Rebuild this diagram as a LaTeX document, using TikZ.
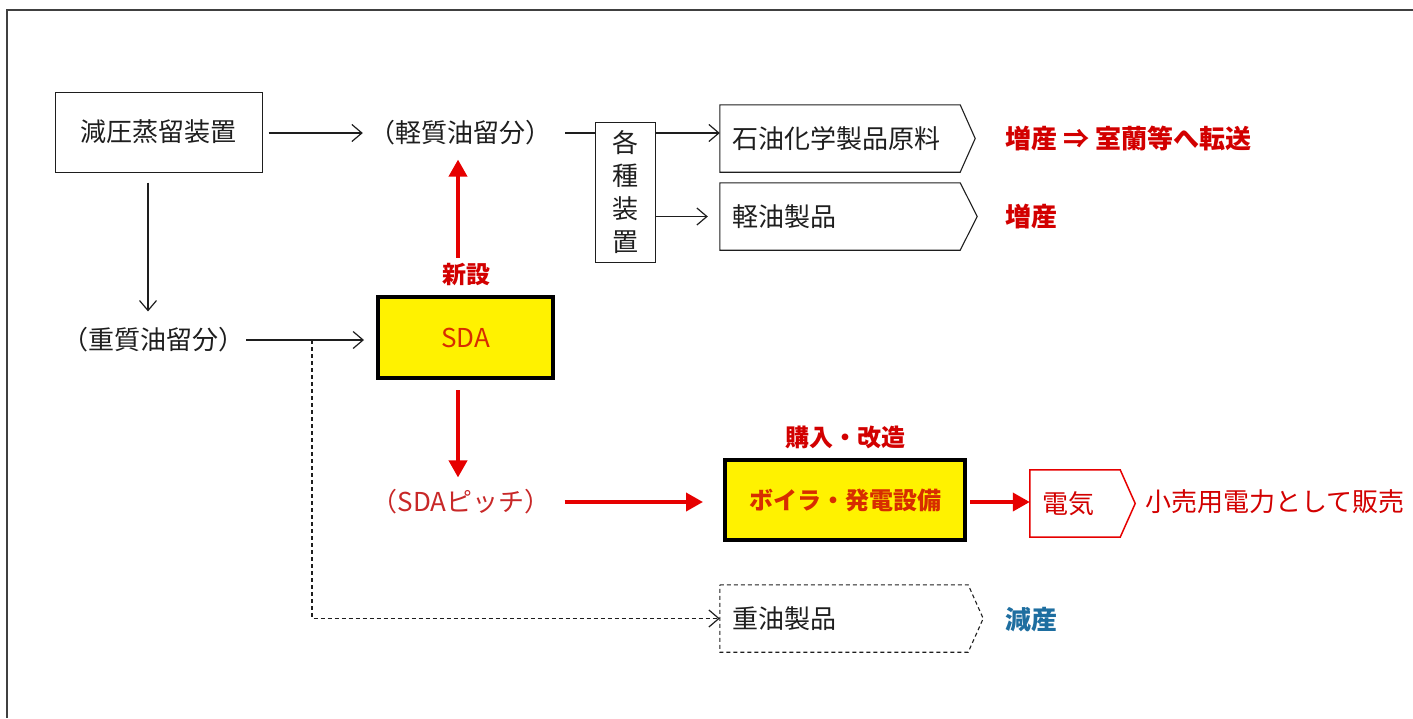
\documentclass[tikz,border=0pt]{standalone}
\usepackage{fontspec}
\setmainfont{Noto Sans CJK JP}
\usetikzlibrary{arrows.meta}
\definecolor{rarrow}{RGB}{230,0,0}
\definecolor{rlab}{RGB}{210,0,0}
\definecolor{sdatxt}{RGB}{215,45,0}
\definecolor{rpitch}{RGB}{200,40,40}
\definecolor{gblue}{RGB}{30,110,160}
\definecolor{ink}{RGB}{30,30,30}
\begin{document}
\begin{tikzpicture}[x=1pt,y=-1pt,
  every node/.style={font=\fontsize{26}{30}\selectfont, inner sep=2pt, text=ink},
  box/.style={draw=ink, line width=1pt},
  ybox/.style={draw=black, line width=4pt, fill=yellow},
  arr/.style={draw=ink, line width=1.2pt, -{Straight Barb[length=10pt,width=17pt,line width=1.2pt]}},
  rarr/.style={draw=rarrow, line width=3.8pt, -{Triangle[length=17pt,width=18pt]}},
  lab/.style={font=\fontsize{26}{30}\selectfont\bfseries, text=rlab},
  slab/.style={font=\fontsize{24}{28}\selectfont\bfseries, text=rlab},
  pent/.style={minimum height=67pt, inner xsep=12pt, inner ysep=2pt, align=left},
  pline/.style={draw=ink, line width=1.1pt}
]
\useasboundingbox (0,0) rectangle (1413,718);
\draw[line width=1.6pt, black!75] (1413,10) -- (7,10) -- (7,718);

% top row
\node[box, minimum width=207pt, minimum height=80pt] (vdu) at (158.5,132) {減圧蒸留装置};
\node (light) at (460,133) {（軽質油留分）};
\node[box, minimum width=60pt, minimum height=140pt, align=center, font=\fontsize{26}{33}\selectfont] (kks) at (625,192) {各\\種\\装\\置};

\node[pent, text width=216pt] (p1) at (840,138.5) {石油化学製品原料};
\draw[pline] (p1.north west) -- (p1.north east) -- ([xshift=15pt]p1.east) -- (p1.south east) -- (p1.south west) -- cycle;
\node[pent, text width=216pt] (p2) at (840,216.5) {軽油製品};
\draw[pline] (p2.north west) -- (p2.north east) -- ([xshift=17pt]p2.east) -- (p2.south east) -- (p2.south west) -- cycle;

\node[lab, anchor=west] (z1) at (1003,138) {増産 ⇒ 室蘭等へ転送};
\node[lab, anchor=west] (z2) at (1003,217) {増産};

% middle
\node (heavy) at (153,340) {（重質油留分）};
\node[ybox, minimum width=175pt, minimum height=81pt, text=sdatxt] (sda) at (465.5,337.5) {SDA};
\node[slab] (shin) at (466,275) {新設};
\node[text=rpitch] (pitch) at (461,502) {（SDAピッチ）};
\node[ybox, minimum width=240pt, minimum height=80pt, text=sdatxt, font=\fontsize{24}{28}\selectfont\bfseries] (boil) at (845,500) {ボイラ・発電設備};
\node[slab] (kai) at (845,437) {購入・改造};

\node[pent, text width=66pt, text=rlab] (elec) at (1075,503.5) {電気};
\draw[draw=rarrow, line width=1.5pt] (elec.north west) -- (elec.north east) -- ([xshift=15pt]elec.east) -- (elec.south east) -- (elec.south west) -- cycle;
\node[anchor=west, text=rlab] (sell) at (1143,502) {小売用電力として販売};

% bottom
\node[pent, text width=224pt] (p3) at (844,618.5) {重油製品};
\draw[pline, dash pattern=on 4pt off 3pt] (p3.north west) -- (p3.north east) -- ([xshift=15pt]p3.east) -- (p3.south east) -- (p3.south west) -- cycle;
\node[lab, anchor=west, text=gblue] (gz) at (1003,620) {減産};

% coordinates
\coordinate (ux) at (458,0);
\coordinate (dx) at (148,0);
\coordinate (br) at (312,340);

% black connectors
\draw[arr, shorten <=6pt, shorten >=4pt] (vdu.east |- light) -- (light.west);
\draw[draw=ink, line width=1.2pt, shorten <=12pt] (light.east) -- (kks.west |- light);
\draw[arr] (kks.east |- light) -- (p1.west |- light);
\draw[arr, shorten >=12pt] (kks.east |- p2) -- (p2.west);
\draw[arr, shorten <=10pt, shorten >=14pt] (dx |- vdu.south) -- (dx |- heavy.north);
\draw[arr, shorten >=12pt] (heavy.east) -- (sda.west |- heavy.east);
\draw[arr, dash pattern=on 4pt off 3pt] (br) -- (br |- p3.west) -- (p3.west);

% red connectors
\draw[rarr, shorten <=4pt, shorten >=12pt] (ux |- shin.north) -- (ux |- light.south);
\draw[rarr, shorten <=10pt, shorten >=10pt] (ux |- sda.south) -- (ux |- pitch.north);
\draw[rarr, shorten <=12pt, shorten >=20pt] (pitch.east) -- (boil.west |- pitch.east);
\draw[rarr, shorten <=3pt] (boil.east |- pitch.east) -- (elec.west |- pitch.east);
\end{tikzpicture}
\end{document}
